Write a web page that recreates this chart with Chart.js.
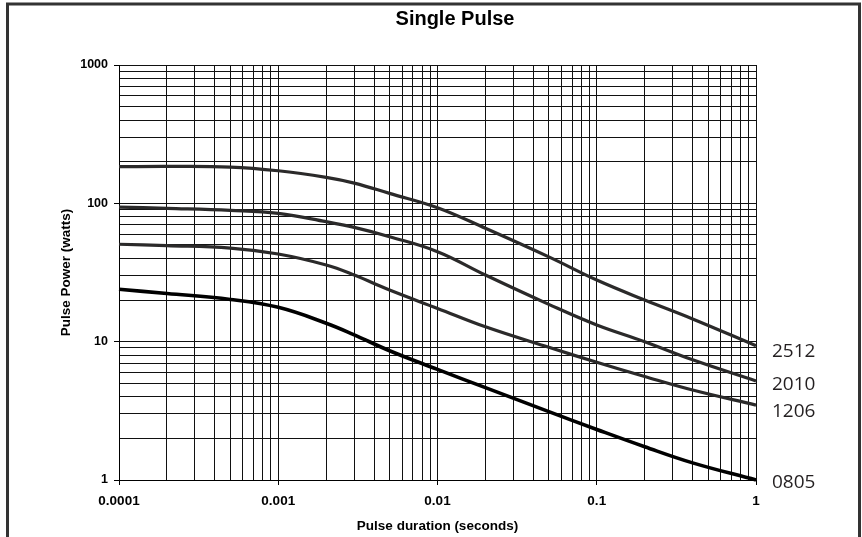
<!DOCTYPE html>
<html>
<head>
<meta charset="utf-8">
<title>Single Pulse</title>
<script src="https://cdn.jsdelivr.net/npm/chart.js@4/dist/chart.umd.min.js"></script>
<style>
    html, body { margin: 0; padding: 0; background: #fff; }
    #grafico { display: block; }
</style>
</head>
<body>
<canvas id="grafico" width="862" height="537"></canvas>
<script>
// Dados (duração do pulso em segundos, potência em watts)
const duracoes = [0.0001, 0.0002, 0.0005, 0.001, 0.002, 0.003, 0.005, 0.01, 0.02, 0.05, 0.1, 0.2, 0.4, 1];
const potencia2512 = [184, 185, 183, 172, 154, 140, 118, 93, 66, 41, 27.9, 20, 14.6, 9.35];
const potencia2010 = [94, 92, 89, 84.7, 73.7, 67, 57.4, 44.7, 30.3, 18.6, 13.2, 10, 7.4, 5.2];
const potencia1206 = [50.6, 49.5, 47.5, 43, 35.8, 30.3, 23.6, 17.4, 12.8, 9.1, 7.1, 5.6, 4.47, 3.48];
const potencia0805 = [23.9, 22.3, 20.2, 17.7, 13.6, 11.2, 8.6, 6.3, 4.65, 3.12, 2.32, 1.74, 1.33, 1.0];

// Nomes das séries (rótulos à direita)
const nomesSeries = ['2512', '2010', '1206', '0805'];

// Rótulos dos eixos (apenas nas décadas)
const decadasX = [0.0001, 0.001, 0.01, 0.1, 1];
const rotulosX = ['0.0001', '0.001', '0.01', '0.1', '1'];
const decadasY = [1, 10, 100, 1000];
const rotulosY = ['1', '10', '100', '1000'];

const series = [potencia2512, potencia2010, potencia1206, potencia0805];
const coresSeries = ['#2b2a2a', '#2b2a2a', '#2b2a2a', '#000000'];
const espessuras = [3.2, 3.2, 3.2, 3.6];
// Deslocamento vertical da linha de base do rótulo em relação ao último ponto
const deslocRotulos = [11, 9.5, 11.5, 8];

// Gera os valores de grade 1..9 em cada década
function valoresGrade(min, max) {
    const valores = [];
    for (let e = Math.round(Math.log10(min)); e < Math.round(Math.log10(max)); e++) {
        for (let m = 1; m < 10; m++) {
            valores.push(m * Math.pow(10, e));
        }
    }
    valores.push(max);
    return valores;
}

function ehDecada(v) {
    const l = Math.log10(v);
    return Math.abs(l - Math.round(l)) < 1e-9;
}

function rotuloPara(valor, decadas, rotulos) {
    const idx = decadas.findIndex(d => Math.abs(Math.log10(d) - Math.log10(valor)) < 1e-9);
    return idx >= 0 ? rotulos[idx] : '';
}

// Plugin para a moldura, o título e os nomes das séries
const pluginExtras = {
    id: 'extras',
    beforeDraw(chart) {
        const ctx = chart.ctx;
        ctx.save();
        ctx.fillStyle = '#fff';
        ctx.fillRect(0, 0, chart.width, chart.height);
        ctx.strokeStyle = '#333';
        ctx.lineWidth = 3;
        ctx.beginPath();
        ctx.moveTo(7.5, chart.height);
        ctx.lineTo(7.5, 4);
        ctx.lineTo(859.5, 4);
        ctx.lineTo(859.5, chart.height);
        ctx.stroke();
        ctx.restore();
    },
    afterDraw(chart) {
        const ctx = chart.ctx;
        const area = chart.chartArea;
        const escalaY = chart.scales.y;
        ctx.save();
        // Título
        ctx.fillStyle = '#000';
        ctx.font = 'bold 20px "Liberation Sans", Arial, sans-serif';
        ctx.textAlign = 'center';
        ctx.textBaseline = 'alphabetic';
        ctx.fillText('Single Pulse', 455, 25);
        // Nomes das séries no fim das curvas
        ctx.font = '19px "Open Sans", "Noto Sans", sans-serif';
        ctx.textAlign = 'left';
        ctx.fillStyle = '#231f20';
        series.forEach((serie, i) => {
            const y = escalaY.getPixelForValue(serie[serie.length - 1]) + deslocRotulos[i];
            ctx.fillText(nomesSeries[i], area.right + 16, y);
        });
        ctx.restore();
    }
};

const fonteEixo = { family: '"Liberation Sans", Arial, sans-serif', weight: 'bold' };

new Chart(document.getElementById('grafico'), {
    type: 'line',
    data: {
        datasets: series.map((serie, i) => ({
            label: nomesSeries[i],
            data: duracoes.map((d, j) => ({ x: d, y: serie[j] })),
            borderColor: coresSeries[i],
            borderWidth: espessuras[i],
            pointRadius: 0,
            fill: false,
            tension: 0.4,
            clip: false
        }))
    },
    options: {
        responsive: false,
        animation: false,
        layout: { padding: { left: 0, top: 65, right: 106, bottom: 0 } },
        plugins: {
            legend: { display: false },
            tooltip: { enabled: false },
            title: { display: false }
        },
        scales: {
            x: {
                type: 'logarithmic',
                min: 0.0001,
                max: 1,
                afterBuildTicks: escala => {
                    escala.ticks = valoresGrade(0.0001, 1).map(v => ({ value: v, major: ehDecada(v) }));
                },
                afterFit: escala => { escala.height = 57; },
                grid: {
                    color: '#111',
                    lineWidth: 1,
                    tickLength: 5,
                    tickColor: c => (c.tick && ehDecada(c.tick.value)) ? '#000' : 'rgba(0,0,0,0)'
                },
                border: { color: '#000', width: 1 },
                ticks: {
                    autoSkip: false,
                    maxRotation: 0,
                    padding: 8,
                    color: '#000',
                    font: { ...fonteEixo, size: 13.5 },
                    callback: valor => rotuloPara(valor, decadasX, rotulosX)
                },
                title: {
                    display: true,
                    text: 'Pulse duration (seconds)',
                    color: '#000',
                    font: { ...fonteEixo, size: 13.5 },
                    padding: { top: 0, bottom: 3 }
                }
            },
            y: {
                type: 'logarithmic',
                min: 1,
                max: 1000,
                afterBuildTicks: escala => {
                    escala.ticks = valoresGrade(1, 1000).map(v => ({ value: v, major: ehDecada(v) }));
                },
                afterFit: escala => { escala.width = 119; },
                grid: {
                    color: '#111',
                    lineWidth: 1,
                    tickLength: 5,
                    tickColor: c => (c.tick && ehDecada(c.tick.value)) ? '#000' : 'rgba(0,0,0,0)'
                },
                border: { color: '#000', width: 1 },
                ticks: {
                    autoSkip: false,
                    padding: 6,
                    color: '#000',
                    font: { ...fonteEixo, size: 12.5 },
                    callback: valor => rotuloPara(valor, decadasY, rotulosY)
                },
                title: {
                    display: true,
                    text: 'Pulse Power (watts)',
                    color: '#000',
                    font: { ...fonteEixo, size: 13.5 },
                    padding: { top: 58, bottom: 0 }
                }
            }
        }
    },
    plugins: [pluginExtras]
});
</script>
</body>
</html>
